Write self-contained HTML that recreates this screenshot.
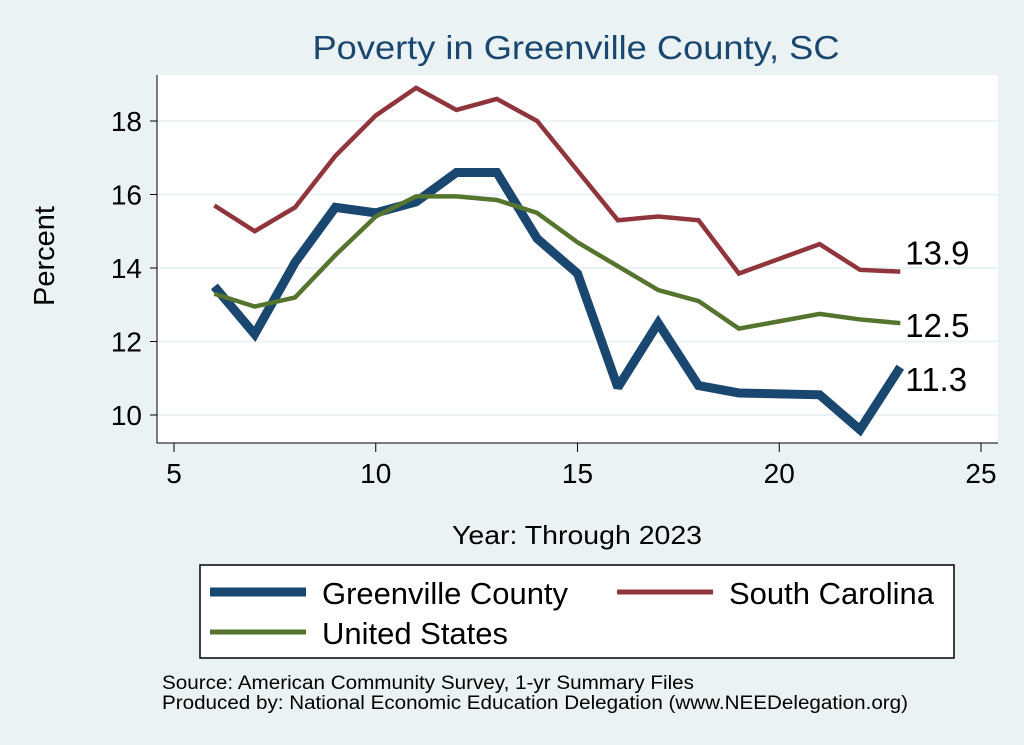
<!DOCTYPE html>
<html><head><meta charset="utf-8"><style>
body{margin:0;background:#eaf2f3;}
svg{display:block;font-family:"Liberation Sans",sans-serif;}
</style></head><body>
<svg id="chart" width="1024" height="745">
<rect x="0" y="0" width="1024" height="745" fill="#eaf2f3"/>
<text x="576" y="59" font-size="33" fill="#1a476f" text-anchor="middle" textLength="527" lengthAdjust="spacingAndGlyphs">Poverty in Greenville County, SC</text>
<rect x="157" y="75" width="841" height="368" fill="#fff"/>
<g id="grid"></g><g id="axes"></g><g id="series"></g>
<text x="54" y="256" font-size="29" text-anchor="middle" transform="rotate(-90 54 256)">Percent</text>
<text x="577" y="544" font-size="26" text-anchor="middle" textLength="250" lengthAdjust="spacingAndGlyphs">Year: Through 2023</text>
<g>
<rect x="200" y="565" width="754" height="93" fill="#fff" stroke="#000" stroke-width="1.5"/>
<line x1="210" y1="592" x2="306" y2="592" stroke="#1a476f" stroke-width="9"/>
<text x="322" y="604" font-size="31" textLength="246" lengthAdjust="spacingAndGlyphs">Greenville County</text>
<line x1="617" y1="592" x2="713" y2="592" stroke="#90353b" stroke-width="5"/>
<text x="729" y="604" font-size="31" textLength="205" lengthAdjust="spacingAndGlyphs">South Carolina</text>
<line x1="210" y1="632" x2="306" y2="632" stroke="#55752f" stroke-width="5"/>
<text x="322" y="644" font-size="31" textLength="186" lengthAdjust="spacingAndGlyphs">United States</text>
</g>
<text x="162" y="689" font-size="19" textLength="532" lengthAdjust="spacingAndGlyphs">Source: American Community Survey, 1-yr Summary Files</text>
<text x="162" y="709" font-size="19" textLength="746" lengthAdjust="spacingAndGlyphs">Produced by: National Economic Education Delegation (www.NEEDelegation.org)</text>
</svg>
<script>
const years=[6,7,8,9,10,11,12,13,14,15,16,17,18,19,21,22,23];
const greenville=[13.5,12.2,14.15,15.65,15.5,15.8,16.6,16.6,14.8,13.85,10.75,12.5,10.8,10.6,10.55,9.6,11.3];
const southCarolina=[15.7,15.0,15.65,17.05,18.15,18.9,18.3,18.6,18.0,16.65,15.3,15.4,15.3,13.85,14.65,13.95,13.9];
const unitedStates=[13.3,12.95,13.2,14.35,15.4,15.95,15.95,15.85,15.5,14.7,14.05,13.4,13.1,12.35,12.75,12.6,12.5];
const xTicks=[5,10,15,20,25];
const yTicks=[10,12,14,16,18];
const endLabels=["11.3","13.9","12.5"];
const NS="http://www.w3.org/2000/svg";
const xs=v=>174+(v-5)*(981-174)/20;
const ys=v=>415-(v-10)*(415-121)/8;
function mk(tag,attrs,parent){const e=document.createElementNS(NS,tag);for(const k in attrs)e.setAttribute(k,attrs[k]);document.getElementById(parent).appendChild(e);return e;}
yTicks.forEach(t=>{
 const g=mk('line',{x1:157,x2:998,y1:ys(t),y2:ys(t),stroke:'#eaf2f3','stroke-width':2},'grid');
 
 
 const tk=mk('line',{x1:150,x2:157,y1:ys(t),y2:ys(t),stroke:'#000','stroke-width':1},'axes');
 
 
 const l=mk('text',{x:142,y:ys(t)+10,'font-size':28,'text-anchor':'end'},'axes');l.textContent=t;
 
 
});
xTicks.forEach(t=>{
 const tk=mk('line',{x1:xs(t),x2:xs(t),y1:443,y2:452,stroke:'#000','stroke-width':1},'axes');
 
 
 const l=mk('text',{x:xs(t),y:483,'font-size':28,'text-anchor':'middle'},'axes');l.textContent=t;
 
 
});
const ax=mk('path',{d:'M157 75 V443 H998',fill:'none',stroke:'#000','stroke-width':1},'axes');


function line(vals,color,w,name){
 const p=mk('polyline',{points:years.map((y,i)=>xs(y)+','+ys(vals[i])).join(' '),fill:'none',stroke:color,'stroke-width':w,'stroke-linejoin':'miter','stroke-miterlimit':2},'series');
 
 
}
line(southCarolina,'#90353b',4.5,'line-south-carolina');
line(greenville,'#1a476f',9,'line-greenville-county');
line(unitedStates,'#55752f',4.5,'line-united-states');
const n=years.length-1, lx=xs(years[n])+5;
[[greenville,endLabels[0],24],[southCarolina,endLabels[1],-7],[unitedStates,endLabels[2],14]].forEach(([v,txt,dy])=>{
 const t=mk('text',{x:lx,y:ys(v[n])+dy,'font-size':33},'series');t.textContent=txt;
 
 
});
</script>
</body></html>
